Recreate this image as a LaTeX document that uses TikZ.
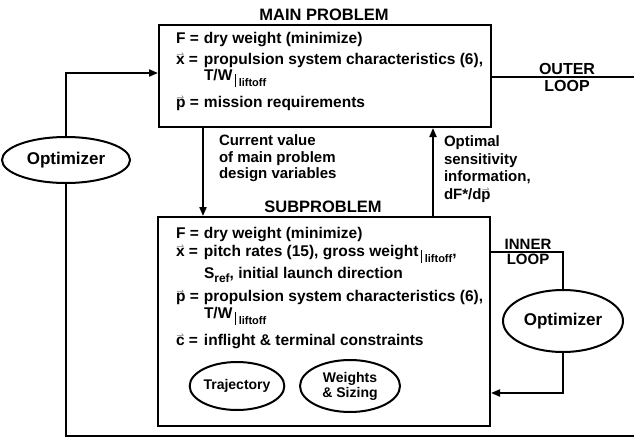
\documentclass[tikz,border=0pt]{standalone}
\usepackage{fontspec}
\setmainfont{Liberation Sans}
\usetikzlibrary{shapes.geometric,arrows.meta}
\newcommand{\vecl}[1]{\makebox[0pt][l]{\hspace{0.3pt}\raisebox{8pt}[9pt][0pt]{\fontsize{7}{7}\selectfont$\rightharpoonup$}}#1}
\newcommand{\liftoffsub}{\,\raisebox{-6pt}{\rule{1.2pt}{13pt}}\,\raisebox{-6pt}{\fontsize{11}{12}\selectfont liftoff}}
\newcommand{\lhs}[1]{\makebox[28pt][l]{#1}}
\begin{document}
\begin{tikzpicture}[x=1pt,y=-1pt,line width=2pt,
  every node/.style={font=\bfseries\fontsize{15.5}{16}\selectfont},
  box/.style={draw,rectangle,inner sep=0pt},
  txt/.style={anchor=west,inner sep=0pt},
  oval/.style={draw,ellipse,inner sep=0pt,align=center},
  lbl/.style={align=center,inner sep=0pt,font=\bfseries\fontsize{15}{15}\selectfont},
  arr/.style={-{Triangle[length=9pt,width=7pt]}}]
\useasboundingbox (0,0) rectangle (634,439);

% boxes
\node[box,minimum width=332pt,minimum height=102pt] (main) at (325,76) {};
\node[box,minimum width=332pt,minimum height=209pt] (sub) at (324,321.5) {};

% titles
\node[inner sep=0pt,font=\bfseries\fontsize{16.5}{17}\selectfont] (mt) at (324,15) {MAIN PROBLEM};
\node[inner sep=0pt,font=\bfseries\fontsize{16.5}{17}\selectfont] (st) at (323,207) {SUBPROBLEM};

% main box text
\node[txt] (m1) at (175,40) {\lhs{F =}dry weight (minimize)};
\node[txt] (m2) at (175,60) {\lhs{\vecl{x} =}propulsion system characteristics (6),};
\node[txt] (m3) at (203,78) {T/W\liftoffsub};
\node[txt] (m4) at (175,103) {\lhs{\vecl{p} =}mission requirements};

% sub box text
\node[txt] (s1) at (175,235) {\lhs{F =}dry weight (minimize)};
\node[txt] (s2) at (175,254) {\lhs{\vecl{x} =}pitch rates (15), gross weight\liftoffsub,};
\node[txt] (s3) at (203,275) {S\raisebox{-3.5pt}{\fontsize{12}{12}\selectfont ref}, initial launch direction};
\node[txt] (s4) at (175,297) {\lhs{\vecl{p} =}propulsion system characteristics (6),};
\node[txt] (s5) at (203,316) {T/W\liftoffsub};
\node[txt] (s6) at (175,342) {\lhs{\vecl{c} =}inflight \& terminal constraints};

% ellipses
\node[oval,minimum width=93pt,minimum height=48pt,font=\bfseries\fontsize{14}{15}\selectfont] (traj) at (237,386) {Trajectory};
\node[oval,minimum width=100pt,minimum height=52pt,font=\bfseries\fontsize{14}{15}\selectfont] (ws) at (350,386) {Weights\\\& Sizing};
\node[oval,minimum width=128pt,minimum height=46pt,font=\bfseries\fontsize{17}{17}\selectfont] (optL) at (66,160) {Optimizer};
\node[oval,minimum width=120pt,minimum height=62pt,font=\bfseries\fontsize{17}{17}\selectfont] (optR) at (563,321) {Optimizer};

% middle labels
\node[anchor=north west,align=left,inner sep=0pt,font=\bfseries\fontsize{15}{16.5}\selectfont] (cv) at (218,134) {Current value\\of main problem\\design variables};
\node[anchor=north west,align=left,inner sep=0pt,font=\bfseries\fontsize{15}{17.5}\selectfont] (os) at (443,135) {Optimal\\sensitivity\\information,\\dF*/d\vecl{p}};

% loop labels
\node[lbl,font=\bfseries\fontsize{16}{17}\selectfont] (ol) at (567,77) {OUTER\\LOOP};
\node[lbl] (il) at (528,252) {INNER\\LOOP};

% coordinates
\coordinate (oR) at (634,77);
\coordinate (oB) at (634,436);
\coordinate (oT) at (0,73);
\coordinate (iT) at (0,252);
\coordinate (iB) at (0,393);
\coordinate (dA) at (203,0);
\coordinate (uA) at (433,0);

% connectors
\draw (main.east |- oR) -- (oR);
\draw (oB) -- (oB -| optL) -- (optL.south);
\draw[arr] (optL.north) -- (optL.north |- oT) -- (main.west |- oT);
\draw[arr] (main.south -| dA) -- (sub.north -| dA);
\draw[arr] (sub.north -| uA) -- (main.south -| uA);
\draw (sub.east |- iT) -- (iT -| optR) -- (optR.north);
\draw[arr] (optR.south) -- (optR.south |- iB) -- (sub.east |- iB);
\end{tikzpicture}
\end{document}
